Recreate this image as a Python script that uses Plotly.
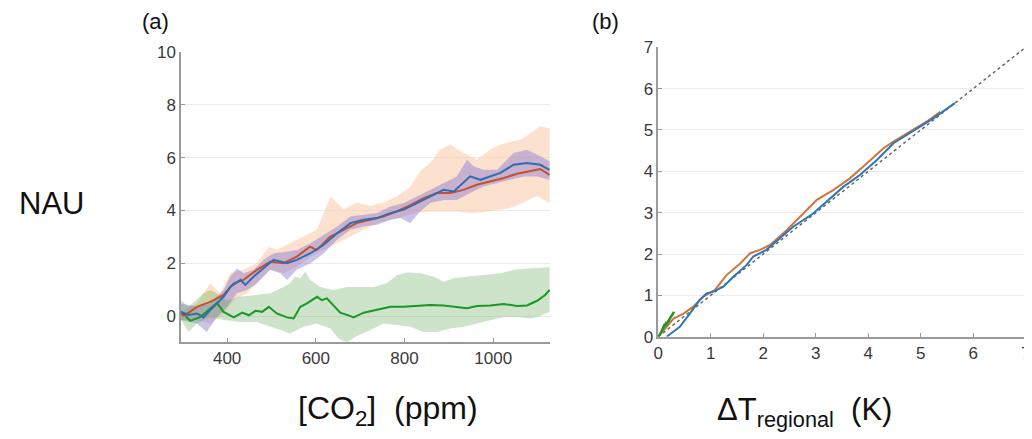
"""NAU response to CO2 (a) and to regional warming (b)."""

import plotly.graph_objects as go

# ---- panel (a): NAU vs [CO2] ----
blue_co2 = [296, 313, 332, 347, 362, 377, 392, 407, 430, 441, 460, 482, 505, 535, 557, 588,
            618, 648, 678, 708, 738, 768, 798, 828, 858, 888, 911, 933, 948, 971, 993, 1016,
            1046, 1076, 1106, 1127]
blue_nau = [0.16, 0.04, 0.1, -0.05, 0.23, 0.48, 0.73, 1.1, 1.37, 1.18, 1.5, 1.81, 2.13, 2.0,
            2.13, 2.38, 2.7, 3.14, 3.52, 3.65, 3.71, 3.9, 4.03, 4.28, 4.53, 4.78, 4.72, 5.04,
            5.29, 5.16, 5.29, 5.42, 5.73, 5.8, 5.73, 5.54]

red_co2 = [296, 302, 332, 362, 392, 415, 437, 467, 497, 527, 542, 557, 587, 602, 632, 662,
           692, 722, 752, 782, 813, 843, 873, 903, 933, 963, 993, 1024, 1054, 1084, 1106, 1127]
red_nau = [0.1, 0.0, 0.35, 0.54, 0.8, 1.24, 1.37, 1.75, 2.06, 2.0, 2.13, 2.25, 2.63, 2.5,
           3.0, 3.27, 3.52, 3.65, 3.77, 3.96, 4.2, 4.47, 4.66, 4.66, 4.78, 4.97, 5.1, 5.23,
           5.39, 5.5, 5.57, 5.35]

green_co2 = [296, 317, 340, 362, 377, 392, 415, 434, 449, 464, 479, 494, 512, 535, 550, 565,
             580, 603, 614, 625, 655, 678, 685, 708, 738, 768, 798, 828, 858, 888, 918, 941,
             963, 993, 1024, 1054, 1076, 1099, 1117, 1127]
green_nau = [0.16, -0.18, -0.03, 0.29, 0.5, 0.16, -0.05, 0.13, 0.03, 0.2, 0.16, 0.35, 0.1,
             -0.05, -0.09, 0.35, 0.48, 0.73, 0.6, 0.67, 0.13, 0.0, -0.05, 0.13, 0.25, 0.35,
             0.35, 0.38, 0.42, 0.4, 0.35, 0.3, 0.38, 0.4, 0.46, 0.38, 0.4, 0.58, 0.8, 0.99]

# spread envelopes (upper and lower edges)
orange_up_co2 = [296, 332, 362, 384, 407, 437, 467, 494, 512, 542, 572, 602, 618, 633, 663,
                 693, 723, 753, 783, 813, 836, 858, 880, 903, 933, 963, 993, 1016, 1039, 1062,
                 1084, 1106, 1127]
orange_up = [0.22, 0.48, 1.24, 0.86, 1.62, 1.75, 2.0, 2.63, 2.5, 2.76, 3.01, 3.27, 3.9, 4.53,
             4.05, 4.3, 4.17, 4.3, 4.53, 4.9, 5.5, 5.8, 6.3, 6.5, 6.18, 5.93, 6.3, 6.5, 6.6,
             6.68, 6.93, 7.19, 7.1]
orange_lo_co2 = [296, 332, 362, 392, 415, 445, 467, 497, 527, 557, 588, 618, 648, 678, 708,
                 738, 768, 798, 828, 858, 888, 918, 948, 978, 1009, 1039, 1069, 1099, 1127]
orange_lo = [-0.15, -0.15, -0.28, 0.1, 0.6, 0.86, 1.24, 1.75, 1.62, 1.87, 2.25, 2.5, 2.76,
             3.01, 3.27, 3.52, 3.65, 3.77, 3.9, 3.96, 3.96, 3.96, 3.9, 3.93, 4.03, 4.1, 4.3,
             4.56, 4.28]

blue_up_co2 = [296, 332, 362, 392, 407, 422, 437, 460, 482, 505, 535, 557, 588, 618, 648,
               678, 708, 738, 768, 798, 828, 858, 888, 918, 941, 956, 978, 1009, 1046, 1076,
               1106, 1127]
blue_up = [0.48, 0.35, 0.48, 0.99, 1.49, 1.81, 1.62, 1.75, 2.13, 2.38, 2.44, 2.5, 2.76, 3.08,
           3.39, 3.77, 3.84, 3.9, 4.15, 4.28, 4.53, 4.78, 5.04, 5.29, 5.92, 5.67, 5.54, 5.54,
           6.18, 6.3, 6.05, 5.86]
blue_lo_co2 = [296, 332, 354, 377, 400, 422, 445, 467, 497, 520, 535, 557, 588, 618, 648, 678,
               708, 738, 768, 791, 813, 835, 858, 888, 918, 948, 978, 1009, 1039, 1069, 1099,
               1127]
blue_lo = [-0.15, -0.28, -0.6, -0.03, 0.35, 0.86, 0.99, 1.24, 1.75, 1.62, 1.37, 1.75, 2.0,
           2.38, 2.89, 3.27, 3.39, 3.46, 3.65, 3.71, 3.52, 3.96, 4.28, 4.4, 4.4, 4.66, 4.91,
           5.04, 5.16, 5.29, 5.29, 5.16]

green_up_co2 = [296, 313, 347, 362, 377, 399, 430, 467, 497, 527, 542, 553, 565, 576, 587, 610,
                640, 670, 700, 730, 760, 783, 805, 835, 865, 888, 911, 941, 979, 1016, 1054,
                1091, 1127]
green_up = [0.6, 0.35, 0.86, 0.99, 0.86, 0.6, 0.73, 0.8, 0.86, 1.1, 1.24, 1.5, 1.43, 1.68,
            1.37, 1.1, 0.99, 1.1, 1.1, 1.1, 1.24, 1.56, 1.65, 1.62, 1.5, 1.3, 1.43, 1.5, 1.56,
            1.62, 1.77, 1.8, 1.85]
green_lo_co2 = [296, 313, 332, 362, 392, 430, 467, 497, 520, 542, 572, 602, 633, 651, 670, 690,
                723, 753, 783, 813, 843, 873, 903, 933, 963, 993, 1024, 1054, 1084, 1106, 1127]
green_lo = [-0.15, -0.6, -0.28, -0.03, -0.15, -0.22, -0.22, -0.4, -0.53, -0.66, -0.4, -0.28,
            -0.47, -0.85, -1.0, -0.78, -0.53, -0.28, -0.34, -0.4, -0.6, -0.6, -0.47, -0.4,
            -0.28, -0.15, -0.03, -0.03, -0.09, 0.0, 0.16]

# ---- panel (b): NAU vs regional warming ----
blue_dt = [0.16, 0.41, 0.6, 0.79, 0.92, 1.05, 1.24, 1.43, 1.68, 1.81, 2.06, 2.32, 2.57, 2.95,
           3.21, 3.53, 3.84, 4.16, 4.48, 4.73, 4.99, 5.24, 5.65]
blue_nau_b = [0.0, 0.24, 0.56, 0.89, 1.05, 1.09, 1.21, 1.45, 1.73, 1.94, 2.1, 2.38, 2.66,
              2.98, 3.27, 3.63, 3.91, 4.27, 4.68, 4.88, 5.08, 5.28, 5.65]
orange_dt = [0.0, 0.16, 0.29, 0.48, 0.67, 0.86, 1.08, 1.3, 1.56, 1.75, 1.94, 2.13, 2.45, 2.7,
             3.02, 3.34, 3.65, 3.97, 4.29, 4.48, 4.8, 5.11, 5.37]
orange_nau_b = [0.0, 0.24, 0.44, 0.56, 0.73, 0.97, 1.13, 1.49, 1.77, 2.02, 2.1, 2.22, 2.58,
                2.9, 3.31, 3.55, 3.83, 4.19, 4.56, 4.72, 4.96, 5.2, 5.44]
green_dt = [0.0, 0.06, 0.12, 0.08, 0.16, 0.13, 0.22, 0.18, 0.3]
green_nau_b = [0.0, 0.12, 0.3, 0.18, 0.36, 0.26, 0.42, 0.36, 0.6]
one_to_one = [0, 7]

BLUE = "#2f6db3"
RED = "#c4502f"
ORANGE = "#d4733a"
GREEN = "#1e9528"

# the page body adds an 8px margin, so the figure is drawn 8px smaller than the window
W, H = 1024, 431


def band(xu, yu, xl, yl, color):
    return go.Scatter(x=xu + xl[::-1], y=yu + yl[::-1], fill="toself", fillcolor=color,
                      line=dict(width=0), mode="lines", hoverinfo="skip",
                      xaxis="x", yaxis="y")


fig = go.Figure()
fig.add_trace(band(orange_up_co2, orange_up, orange_lo_co2, orange_lo, "rgba(252,196,160,0.5)"))
fig.add_trace(band(blue_up_co2, blue_up, blue_lo_co2, blue_lo, "rgba(110,100,205,0.38)"))
fig.add_trace(band(green_up_co2, green_up, green_lo_co2, green_lo, "rgba(90,165,80,0.3)"))
fig.add_trace(go.Scatter(x=green_co2, y=green_nau, mode="lines", line=dict(color=GREEN, width=2)))
fig.add_trace(go.Scatter(x=red_co2, y=red_nau, mode="lines", line=dict(color=RED, width=2)))
fig.add_trace(go.Scatter(x=blue_co2, y=blue_nau, mode="lines", line=dict(color=BLUE, width=2)))

fig.add_trace(go.Scatter(x=one_to_one, y=one_to_one, mode="lines", xaxis="x2", yaxis="y2",
                         line=dict(color="#666666", width=1.5, dash="dot")))
fig.add_trace(go.Scatter(x=orange_dt, y=orange_nau_b, mode="lines", xaxis="x2", yaxis="y2",
                         line=dict(color=ORANGE, width=2)))
fig.add_trace(go.Scatter(x=blue_dt, y=blue_nau_b, mode="lines", xaxis="x2", yaxis="y2",
                         line=dict(color="#2a78b8", width=2)))
fig.add_trace(go.Scatter(x=green_dt, y=green_nau_b, mode="lines", xaxis="x2", yaxis="y2",
                         line=dict(color=GREEN, width=2.5)))

axis_common = dict(showline=True, linecolor="#9a9a9a", linewidth=1.5, ticks="inside",
                   ticklen=4, tickcolor="#9a9a9a", zeroline=False, automargin=False,
                   ticklabeloverflow="allow",
                   tickfont=dict(family="Liberation Sans, Arial", size=17, color="#3a3a3a"))

fig.update_layout(
    width=W, height=H, margin=dict(l=0, r=0, t=0, b=0, autoexpand=False),
    paper_bgcolor="white", plot_bgcolor="white", showlegend=False,
    xaxis=dict(domain=[173 / W, 542 / W], range=[296, 1128], tickvals=[400, 600, 800, 1000],
               showgrid=False, **axis_common),
    yaxis=dict(domain=[1 - 333.7 / H, 1 - 44 / H], range=[-0.97, 10],
               tickvals=[0, 2, 4, 6, 8, 10], showgrid=True, gridcolor="#ececec", **axis_common),
    xaxis2=dict(domain=[650.3 / W, 1017.7 / W], range=[0, 7], tickvals=list(range(8)),
                showgrid=False, anchor="y2", **axis_common),
    yaxis2=dict(domain=[1 - 328.7 / H, 1 - 39.3 / H], range=[0, 7], tickvals=list(range(8)),
                showgrid=True, gridcolor="#ececec", anchor="x2", **axis_common),
)

label_font = dict(family="Liberation Sans, Arial", color="#111111")


def label(px, py, text, size):
    fig.add_annotation(x=px / W, y=1 - py / H, xref="paper", yref="paper", text=text,
                       xanchor="center", yanchor="middle", showarrow=False,
                       font=dict(size=size, **label_font))


label(147, 14, "(a)", 22)
label(597, 14, "(b)", 22)
label(43, 195, "NAU", 31)
label(380, 402, "[CO<sub>2</sub>]  (ppm)", 32)
label(796, 404, "ΔT<sub>regional</sub>  (K)", 31)

fig.write_html("out.html")
